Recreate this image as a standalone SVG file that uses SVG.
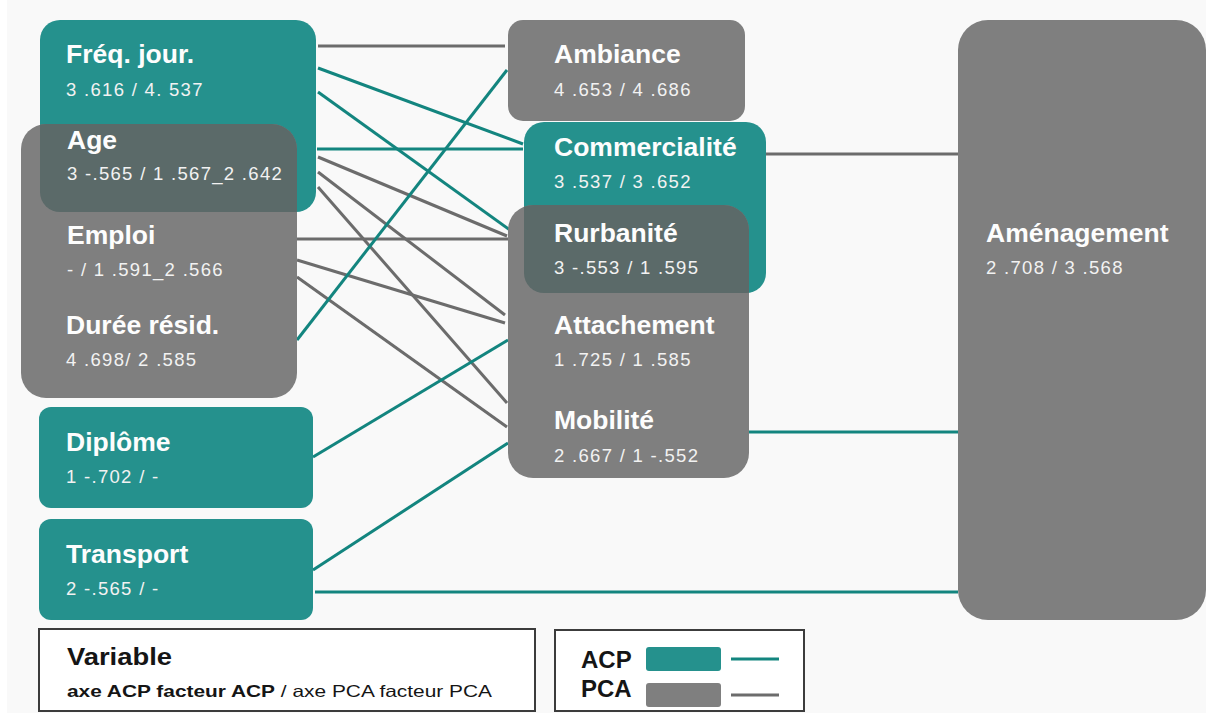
<svg xmlns="http://www.w3.org/2000/svg" width="1206" height="713" viewBox="0 0 1206 713">
  <defs>
    <style>
      .acp { fill: #25918d; }
      .pca { fill: #7f7f7f; }
      .mix { fill: #5b6a69; }
      .l-acp { stroke: #13857f; stroke-width: 3; fill: none; }
      .l-pca { stroke: #6c6c6c; stroke-width: 3; fill: none; }
      .title { font-family: "Liberation Sans", Arial, sans-serif; font-weight: bold; font-size: 26.5px; fill: #fdfdfd; }
      .val { font-family: "Liberation Sans", Arial, sans-serif; font-size: 18.5px; letter-spacing: 1.3px; fill: #f2f2f2; }
      .leg { font-family: "Liberation Sans", Arial, sans-serif; fill: #151515; }
    </style>
    <clipPath id="clipFreq"><rect x="40" y="20" width="276" height="192" rx="20"/></clipPath>
    <clipPath id="clipComm"><rect x="524" y="122" width="242" height="171" rx="20"/></clipPath>
  </defs>

  <!-- page -->
  <rect x="0" y="0" width="1206" height="713" fill="#ffffff"/>
  <rect x="7" y="0" width="1199" height="713" fill="#f9f9f9"/>

  <!-- links between variables and factors -->
  <g id="connectors">
    <line class="l-pca" x1="318" y1="46" x2="505" y2="46"/>
    <line class="l-acp" x1="318" y1="68" x2="523" y2="144"/>
    <line class="l-acp" x1="318" y1="92" x2="510" y2="230"/>
    <line class="l-acp" x1="317" y1="149" x2="523" y2="149"/>
    <line class="l-pca" x1="318" y1="157" x2="507" y2="236"/>
    <line class="l-pca" x1="318" y1="172" x2="505" y2="315"/>
    <line class="l-pca" x1="318" y1="187" x2="507" y2="403"/>
    <line class="l-pca" x1="297" y1="239" x2="508" y2="239"/>
    <line class="l-pca" x1="297" y1="260" x2="505" y2="323"/>
    <line class="l-pca" x1="297" y1="277" x2="507" y2="427"/>
    <line class="l-acp" x1="297" y1="340" x2="507" y2="70"/>
    <line class="l-acp" x1="313" y1="457" x2="508" y2="340"/>
    <line class="l-acp" x1="313" y1="570" x2="508" y2="443"/>
    <line class="l-acp" x1="315" y1="592" x2="958" y2="592"/>
    <line class="l-pca" x1="766" y1="154" x2="958" y2="154"/>
    <line class="l-acp" x1="749" y1="432" x2="958" y2="432"/>
  </g>

  <!-- left column -->
  <g id="freq-jour">
    <rect class="acp" x="40" y="20" width="276" height="192" rx="20"/>
    <text class="title" x="66" y="63">Fréq. jour.</text>
    <text class="val" x="66" y="96">3 .616 / 4. 537</text>
  </g>
  <g id="age-emploi-duree">
    <rect class="pca" x="21" y="124" width="276" height="274" rx="25"/>
    <rect class="mix" x="21" y="124" width="276" height="274" rx="25" clip-path="url(#clipFreq)"/>
    <text class="title" x="67" y="149">Age</text>
    <text class="val" x="67" y="180">3 -.565 / 1 .567_2 .642</text>
    <text class="title" x="67" y="244">Emploi</text>
    <text class="val" x="67" y="276">- / 1 .591_2 .566</text>
    <text class="title" x="66" y="334">Durée résid.</text>
    <text class="val" x="66" y="366">4 .698/ 2 .585</text>
  </g>
  <g id="diplome">
    <rect class="acp" x="39" y="407" width="274" height="101" rx="12"/>
    <text class="title" x="66" y="451">Diplôme</text>
    <text class="val" x="66" y="483">1 -.702 / -</text>
  </g>
  <g id="transport">
    <rect class="acp" x="39" y="519" width="274" height="101" rx="12"/>
    <text class="title" x="66" y="563">Transport</text>
    <text class="val" x="66" y="595">2 -.565 / -</text>
  </g>

  <!-- middle column -->
  <g id="ambiance">
    <rect class="pca" x="508" y="20" width="237" height="101" rx="15"/>
    <text class="title" x="554" y="63">Ambiance</text>
    <text class="val" x="554" y="96">4 .653 / 4 .686</text>
  </g>
  <g id="commercialite">
    <rect class="acp" x="524" y="122" width="242" height="171" rx="20"/>
    <text class="title" x="554" y="156">Commercialité</text>
    <text class="val" x="554" y="188">3 .537 / 3 .652</text>
  </g>
  <g id="rurbanite-attachement-mobilite">
    <rect class="pca" x="508" y="205" width="241" height="273" rx="25"/>
    <rect class="mix" x="508" y="205" width="241" height="273" rx="25" clip-path="url(#clipComm)"/>
    <text class="title" x="554" y="242">Rurbanité</text>
    <text class="val" x="554" y="274">3 -.553 / 1 .595</text>
    <text class="title" x="554" y="334">Attachement</text>
    <text class="val" x="554" y="366">1 .725 / 1 .585</text>
    <text class="title" x="554" y="429">Mobilité</text>
    <text class="val" x="554" y="462">2 .667 / 1 -.552</text>
  </g>

  <!-- right column -->
  <g id="amenagement">
    <rect class="pca" x="958" y="20" width="248" height="600" rx="30"/>
    <text class="title" x="986" y="242">Aménagement</text>
    <text class="val" x="986" y="274">2 .708 / 3 .568</text>
  </g>

  <!-- legends -->
  <g id="legend-variable">
    <rect x="39" y="629" width="496" height="82" fill="#ffffff" stroke="#3c3c3c" stroke-width="2"/>
    <text class="leg" x="67" y="665" font-size="24" font-weight="bold" textLength="105" lengthAdjust="spacingAndGlyphs">Variable</text>
    <text class="leg" x="67" y="697" font-size="16.5" textLength="425" lengthAdjust="spacingAndGlyphs"><tspan font-weight="bold">axe ACP facteur ACP</tspan> / axe PCA facteur PCA</text>
  </g>
  <g id="legend-colours">
    <rect x="555" y="630" width="249" height="81" fill="#ffffff" stroke="#3c3c3c" stroke-width="2"/>
    <text class="leg" x="581" y="668" font-size="24" font-weight="bold">ACP</text>
    <text class="leg" x="581" y="697" font-size="24" font-weight="bold">PCA</text>
    <rect class="acp" x="646" y="647" width="75" height="24" rx="3"/>
    <rect class="pca" x="646" y="683" width="75" height="24" rx="3"/>
    <line class="l-acp" x1="731" y1="659" x2="779" y2="659"/>
    <line class="l-pca" x1="731" y1="695" x2="779" y2="695"/>
  </g>
</svg>
